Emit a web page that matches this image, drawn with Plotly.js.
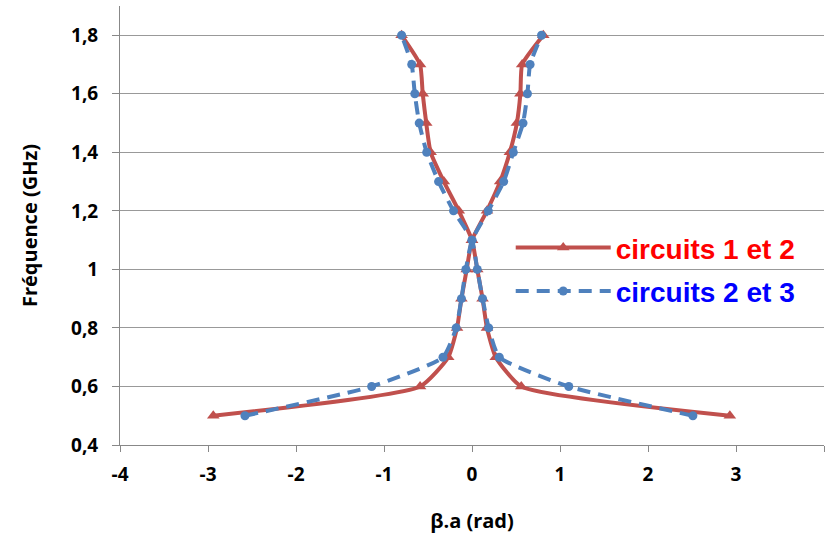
<!DOCTYPE html>
<html>
<head>
<meta charset="utf-8">
<script src="https://cdn.plot.ly/plotly-3.0.1.min.js"></script>
<style>html,body{margin:0;padding:0;background:#fff;}</style>
</head>
<body>
<div id="chart" style="width:829px;height:538px;"></div>
<script>
// Frequencies (GHz)
const freq = [0.5, 0.6, 0.7, 0.8, 0.9, 1.0, 1.1, 1.2, 1.3, 1.4, 1.5, 1.6, 1.7, 1.8];
// circuits 1 et 2 : beta.a, negative branch and positive branch
const red1Neg = [-2.94, -0.59, -0.27, -0.17, -0.12, -0.06, 0, -0.15, -0.32, -0.47, -0.52, -0.56, -0.59, -0.80];
const red1Pos = [2.93, 0.56, 0.27, 0.17, 0.12, 0.06, 0, 0.17, 0.32, 0.43, 0.51, 0.55, 0.57, 0.81];
// circuits 2 et 3
const blue2Neg = [-2.58, -1.14, -0.33, -0.18, -0.12, -0.07, 0, -0.21, -0.38, -0.515, -0.60, -0.65, -0.685, -0.80];
const blue2Pos = [2.51, 1.10, 0.31, 0.19, 0.12, 0.06, 0, 0.185, 0.36, 0.47, 0.58, 0.63, 0.66, 0.79];

const yTickVals = [0.4, 0.6, 0.8, 1.0, 1.2, 1.4, 1.6, 1.8];
const yTickText = ['0,4', '0,6', '0,8', '1', '1,2', '1,4', '1,6', '1,8'];
const xTickVals = [-4, -3, -2, -1, 0, 1, 2, 3, 4];
const xTickText = ['-4', '-3', '-2', '-1', '0', '1', '2', '3', '4'];

// Build a path: lower branch on one side, upper branch on the other, then the mirror
function branches(neg, pos) {
  const xs = [], ys = [];
  const iMid = freq.indexOf(1.1);
  for (let i = 0; i < freq.length; i++) { xs.push(i <= iMid ? neg[i] : pos[i]); ys.push(freq[i]); }
  xs.push(null); ys.push(null);
  for (let i = 0; i < freq.length; i++) { xs.push(i <= iMid ? pos[i] : neg[i]); ys.push(freq[i]); }
  return {xs, ys};
}
const r = branches(red1Neg, red1Pos);
const b = branches(blue2Neg, blue2Pos);

const traces = [
  {
    x: r.xs, y: r.ys, name: 'circuits 1 et 2', type: 'scatter', mode: 'lines+markers',
    connectgaps: false, legendgroup: 'g1',
    line: {color: '#C0504D', width: 4, shape: 'spline', smoothing: 0.5},
    marker: {symbol: 'triangle-up', size: 11, color: '#C0504D'}
  },
  {
    x: b.xs, y: b.ys, name: 'circuits 2 et 3', type: 'scatter', mode: 'lines+markers',
    connectgaps: false, legendgroup: 'g2',
    line: {color: '#4F81BD', width: 4, dash: '13px,8px', shape: 'spline', smoothing: 0.5},
    marker: {symbol: 'circle', size: 9, color: '#4F81BD'}
  }
];

const tickFont = {family: '"Open Sans", Lato, sans-serif', size: 19, color: '#000', weight: 'bold'};
const titleFont = {family: '"Open Sans", Lato, sans-serif', size: 20, color: '#000', weight: 'bold'};

const layout = {
  width: 829, height: 538,
  margin: {l: 120, r: 5, t: 6, b: 93},
  paper_bgcolor: '#fff', plot_bgcolor: '#fff',
  showlegend: true,
  legend: {
    x: 0.555, y: 0.40, xanchor: 'left', yanchor: 'middle',
    bgcolor: 'rgba(0,0,0,0)',
    itemwidth: 95,
    tracegroupgap: 4,
    font: {family: '"Liberation Sans", Arial, sans-serif', size: 28, weight: 'bold'}
  },
  xaxis: {
    range: [-4, 4], tickvals: xTickVals, ticktext: xTickText,
    showgrid: false, zeroline: false,
    showline: true, linecolor: '#888', linewidth: 1,
    ticks: 'outside', ticklen: 6, tickcolor: '#888',
    ticklabelstandoff: 6,
    tickfont: tickFont,
    title: {text: 'β.a (rad)', font: titleFont, standoff: 28}
  },
  yaxis: {
    range: [0.4, 1.9], tickvals: yTickVals, ticktext: yTickText,
    showgrid: true, gridcolor: '#999', gridwidth: 1,
    zeroline: false,
    showline: true, linecolor: '#888', linewidth: 1,
    ticks: 'outside', ticklen: 7, tickcolor: '#888',
    ticklabelstandoff: 10,
    tickfont: tickFont,
    title: {text: 'Fréquence (GHz)', font: titleFont, standoff: 28}
  }
};

Plotly.newPlot('chart', traces, layout, {displayModeBar: false, staticPlot: true}).then(function () {
  const texts = document.querySelectorAll('.legendtext');
  if (texts[0]) texts[0].style.fill = '#FF0000';
  if (texts[1]) texts[1].style.fill = '#0000FF';
});
</script>
</body>
</html>
